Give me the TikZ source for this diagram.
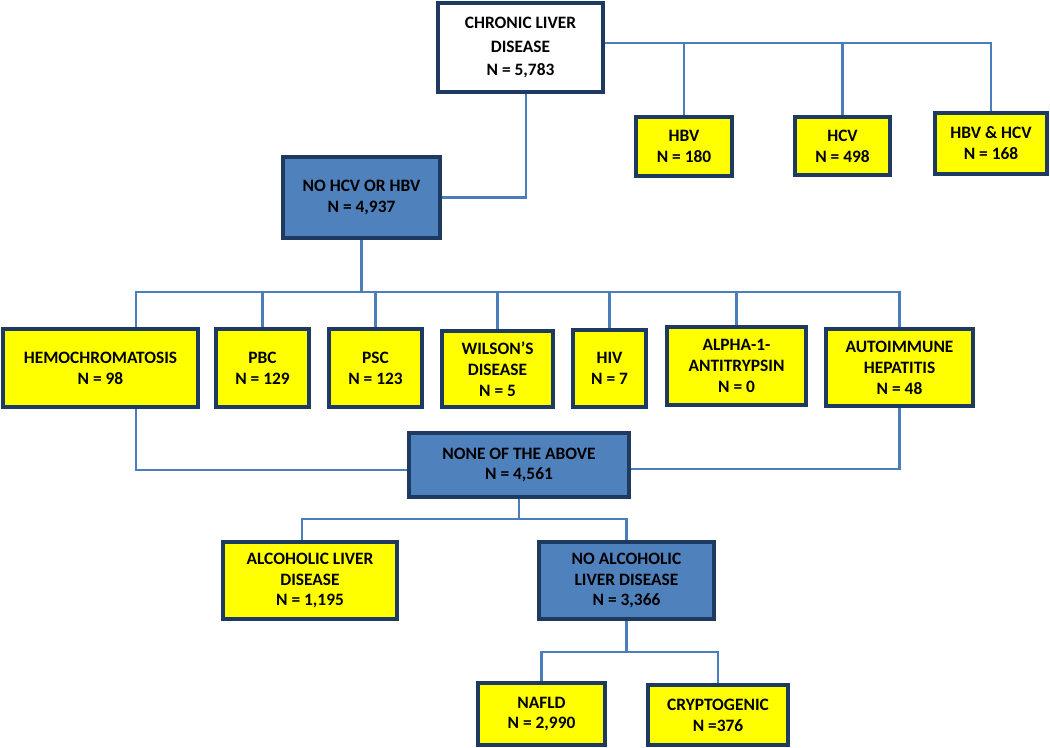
\documentclass[tikz,border=0pt]{standalone}
\usepackage{fontspec}
\setmainfont{Carlito}
\usepackage{xcolor}
\usepackage{tikz}
\usetikzlibrary{positioning, calc}

\definecolor{boxline}{HTML}{1F3A60}
\definecolor{boxblue}{HTML}{4F81BD}
\definecolor{linkblue}{HTML}{4A7EBB}
\definecolor{boxyellow}{HTML}{FFFF00}

\begin{document}
\begin{tikzpicture}[
    x=0.02cm, y=-0.02cm,
    base/.style={rectangle, draw=boxline, line width=2.3pt, align=center, inner sep=1pt,
        font=\fontsize{9.9}{11.9}\selectfont\bfseries},
    whitebox/.style={base, fill=white, font=\fontsize{9.9}{13.4}\selectfont\bfseries},
    ybox/.style={base, fill=boxyellow},
    bbox/.style={base, fill=boxblue},
    link/.style={draw=linkblue, line width=1.5pt},
]
\useasboundingbox (0,0) rectangle (1050,747);

% Top level
\node[whitebox, minimum width=3.30cm, minimum height=1.78cm] (cld) at (520.5,47.5) {CHRONIC LIVER\\DISEASE\\N = 5,783};

% Viral groups
\node[ybox, minimum width=1.92cm, minimum height=1.18cm] (hbv) at (684,146.5) {HBV\\N = 180};
\node[ybox, minimum width=1.90cm, minimum height=1.16cm] (hcv) at (842.5,146) {HCV\\N = 498};
\node[ybox, minimum width=2.24cm, minimum height=1.22cm] (both) at (991,143.5) {HBV \& HCV\\N = 168};

% Non viral
\node[bbox, minimum width=3.14cm, minimum height=1.62cm] (nohcv) at (361.5,197.5) {NO HCV OR HBV\\N = 4,937};

% Other causes - row
\node[ybox, minimum width=3.90cm, minimum height=1.56cm] (hemo) at (100.5,368) {HEMOCHROMATOSIS\\N = 98};
\node[ybox, minimum width=1.86cm, minimum height=1.56cm] (pbc) at (262.5,368) {PBC\\N = 129};
\node[ybox, minimum width=1.86cm, minimum height=1.56cm] (psc) at (375.5,368) {PSC\\N = 123};
\node[ybox, minimum width=2.22cm, minimum height=1.52cm] (wilson) at (497.5,369) {WILSON'S\\DISEASE\\N = 5};
\node[ybox, minimum width=1.46cm, minimum height=1.54cm] (hiv) at (609.5,368.5) {HIV\\N = 7};
\node[ybox, minimum width=2.78cm, minimum height=1.56cm] (alpha) at (736.5,366) {ALPHA-1-\\ANTITRYPSIN\\N = 0};
\node[ybox, minimum width=2.94cm, minimum height=1.54cm] (auto) at (899.5,367.5) {AUTOIMMUNE\\HEPATITIS\\N = 48};

% Remaining
\node[bbox, minimum width=4.40cm, minimum height=1.28cm] (none) at (519,465) {NONE OF THE ABOVE\\N = 4,561};
\node[ybox, minimum width=3.48cm, minimum height=1.54cm] (alc) at (310,580.5) {ALCOHOLIC LIVER\\DISEASE\\N = 1,195};
\node[bbox, minimum width=3.50cm, minimum height=1.54cm] (noalc) at (626.5,580.5) {NO ALCOHOLIC\\LIVER DISEASE\\N = 3,366};
\node[ybox, minimum width=2.54cm, minimum height=1.24cm] (nafld) at (541.5,714) {NAFLD\\N = 2,990};
\node[ybox, minimum width=2.80cm, minimum height=1.20cm] (crypto) at (718,715) {CRYPTOGENIC\\N =376};

% Links from top box
\coordinate (b0) at ([yshift=0.09cm]cld.east);
\draw[link] (b0) -| (both.north);
\draw[link] (hbv.north) -- (hbv.north |- b0);
\draw[link] (hcv.north) -- (hcv.north |- b0);
\draw[link] ([xshift=0.11cm]cld.south) |- (nohcv.east);

% Row bus
\draw[link] (nohcv.south) -- ++(0,52) coordinate (b1);
\draw[link] ([xshift=0.71cm]hemo.north) |- (b1) -| (auto.north);
\foreach \n in {pbc, psc, wilson, hiv, alpha}
    \draw[link] (\n.north) -- (\n.north |- b1);

% Into none of the above
\draw[link] ([xshift=0.71cm]hemo.south) |- ([yshift=-0.1cm]none.west);
\draw[link] (auto.south) |- ([yshift=-0.08cm]none.east);

% Alcohol split
\draw[link] (none.south) -- ++(0,20) coordinate (b2);
\draw[link] ([xshift=-0.16cm]alc.north) |- (b2) -| (noalc.north);

% NAFLD split
\draw[link] (noalc.south) -- ++(0,31) coordinate (b3);
\draw[link] (nafld.north) |- (b3) -| (crypto.north);

\end{tikzpicture}
\end{document}
